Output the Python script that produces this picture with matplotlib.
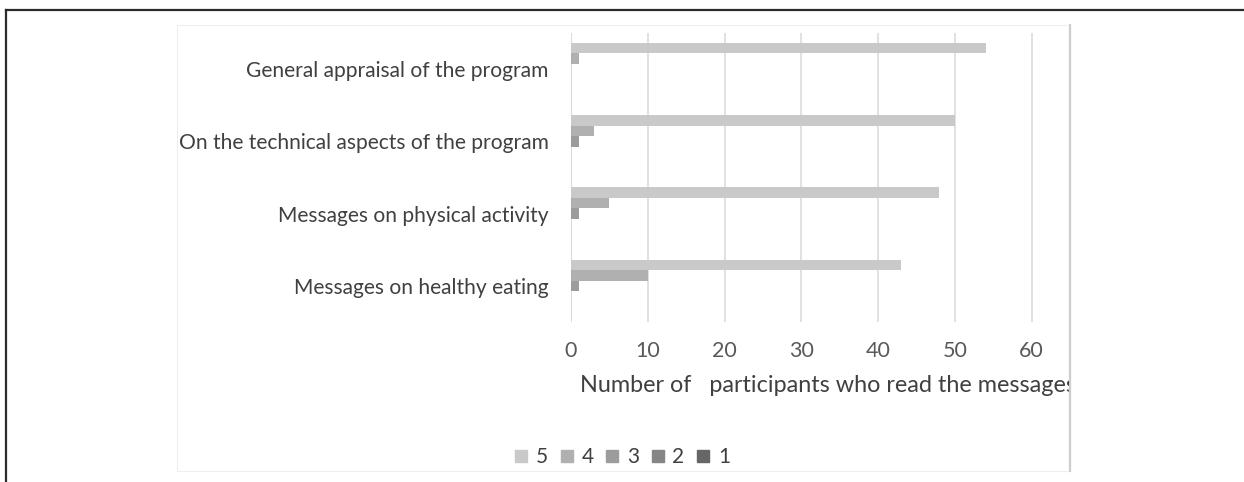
import matplotlib
matplotlib.use("Agg")
import matplotlib.pyplot as plt
from matplotlib.lines import Line2D
from matplotlib.patches import Rectangle
from matplotlib.transforms import Bbox
import numpy as np

categories = ["General appraisal of the program",
              "On the technical aspects of the program",
              "Messages on physical activity",
              "Messages on healthy eating"]
series_names = ["5", "4", "3", "2", "1"]
r5 = [54, 50, 48, 43]
r4 = [1, 3, 5, 10]
r3 = [0, 1, 1, 1]
r2 = [0, 0, 0, 0]
r1 = [0, 0, 0, 0]
series_values = [r5, r4, r3, r2, r1]
colors = ["#c9c9c9", "#b0b0b0", "#9c9c9c", "#858585", "#666666"]
xticks = [0, 10, 20, 30, 40, 50, 60]

W, H = 1244, 482
fig = plt.figure(figsize=(W / 100, H / 100), dpi=100)
plt.rcParams['font.family'] = ['Lato', 'DejaVu Sans']

def fx(px):
    return px / W

def fy(py):
    return 1 - py / H

ax = fig.add_axes([fx(571), fy(322), fx(1070) - fx(571), fy(33) - fy(322)])
h = 0.1453
y = np.arange(len(categories))
for j, (vals, c) in enumerate(zip(series_values, colors)):
    ax.barh(y + (j - 2) * h, vals, height=h, color=c, zorder=3, linewidth=0)

ax.set_xlim(0, 65)
ax.set_ylim(3.5, -0.5)
ax.set_xticks(xticks)
ax.set_xticklabels([str(t) for t in xticks])
ax.set_yticks(y)
ax.set_yticklabels(categories)
for s in ax.spines.values():
    s.set_visible(False)
ax.grid(axis='x', color='#d9d9d9', linewidth=1.1, zorder=0)
ax.axvline(0, color='#d9d9d9', linewidth=1.1, zorder=1)
ax.tick_params(axis='both', length=0)
ax.tick_params(axis='y', pad=16, labelsize=15.1, labelcolor='#404040')
ax.tick_params(axis='x', pad=14, labelsize=15.5, labelcolor='#595959')

# axis title, clipped at chart-area edge
t = fig.text(fx(580), fy(386), "Number of   participants who read the messages",
             ha='left', va='center', fontsize=16.8, color='#404040')
t.set_clip_box(Bbox.from_extents(0, 0, 1069, H))
t.set_clip_on(True)

# chart area box
fig.add_artist(Rectangle((fx(177), fy(471)), fx(1070) - fx(177), fy(25) - fy(471),
                         transform=fig.transFigure, fill=False,
                         edgecolor='#efefef', linewidth=0.8))
fig.add_artist(Line2D([fx(1070), fx(1070)], [fy(25), fy(471)],
                      transform=fig.transFigure, color='#cdcdcd', linewidth=1.6))

# outer frame
fig.add_artist(Line2D([fx(5.5), 1], [fy(9.5), fy(9.5)], transform=fig.transFigure,
                      color='#2a2a2a', linewidth=1.6))
fig.add_artist(Line2D([fx(5.5), fx(5.5)], [fy(9.5), 0], transform=fig.transFigure,
                      color='#2a2a2a', linewidth=1.6))

handles = [Line2D([], [], marker='s', linestyle='none', markersize=9,
                  markerfacecolor=c, markeredgecolor=c) for c in colors]
fig.legend(handles, series_names, loc='center', bbox_to_anchor=(fx(622), fy(457)),
           ncol=5, frameon=False, fontsize=15, handlelength=0.7,
           handletextpad=0.35, columnspacing=0.55, labelcolor='#404040')

fig.savefig("out.png", dpi=100)
